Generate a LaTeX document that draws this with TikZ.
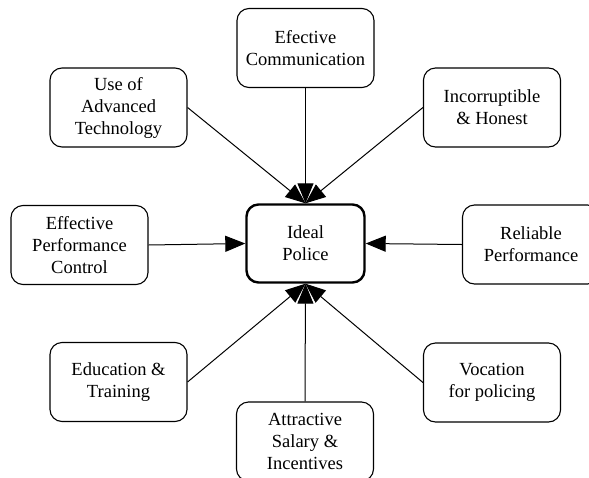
\documentclass[tikz,border=0pt]{standalone}
\usepackage{fontspec}
\setmainfont{Liberation Serif}
\usetikzlibrary{arrows.meta}
\begin{document}
\begin{tikzpicture}[x=1pt,y=-1pt,
  box/.style={draw, line width=1.1pt, rounded corners=12pt, minimum width=137pt, minimum height=79pt, align=center, inner sep=0pt, font=\fontsize{18.5}{22}\selectfont},
  hub/.style={box, line width=2.4pt, minimum width=118pt, minimum height=78pt},
  link/.style={line width=1pt, -{Triangle[length=20pt,width=16pt]}}]
\useasboundingbox (0,0) rectangle (589,477);
\begin{scope}
\clip (0,0) rectangle (589,477);
\node[hub] (ideal) at (305.5,243.5) {Ideal\\Police};
\node[box] (comm) at (305.5,48) {Efective\\Communication};
\node[box] (tech) at (118.5,107.5) {Use of\\Advanced\\Technology};
\node[box] (hon) at (492,107.5) {Incorruptible\\\& Honest};
\node[box] (perf) at (79.5,245) {Effective\\Performance\\Control};
\node[box] (rel) at (531,244.5) {Reliable\\Performance};
\node[box] (edu) at (118.5,382) {Education \&\\Training};
\node[box] (sal) at (305,441.5) {Attractive\\Salary \&\\Incentives};
\node[box] (voc) at (492,382.5) {Vocation\\for policing};
\draw[link] (comm.south) -- (ideal.north);
\draw[link] (tech.east) -- (ideal.north);
\draw[link] (hon.west) -- (ideal.north);
\draw[link] (perf.east) -- (ideal.west);
\draw[link] (rel.west) -- (ideal.east);
\draw[link] (edu.east) -- (ideal.south);
\draw[link] (sal.north) -- (ideal.south);
\draw[link] (voc.west) -- (ideal.south);
\end{scope}
\end{tikzpicture}
\end{document}
